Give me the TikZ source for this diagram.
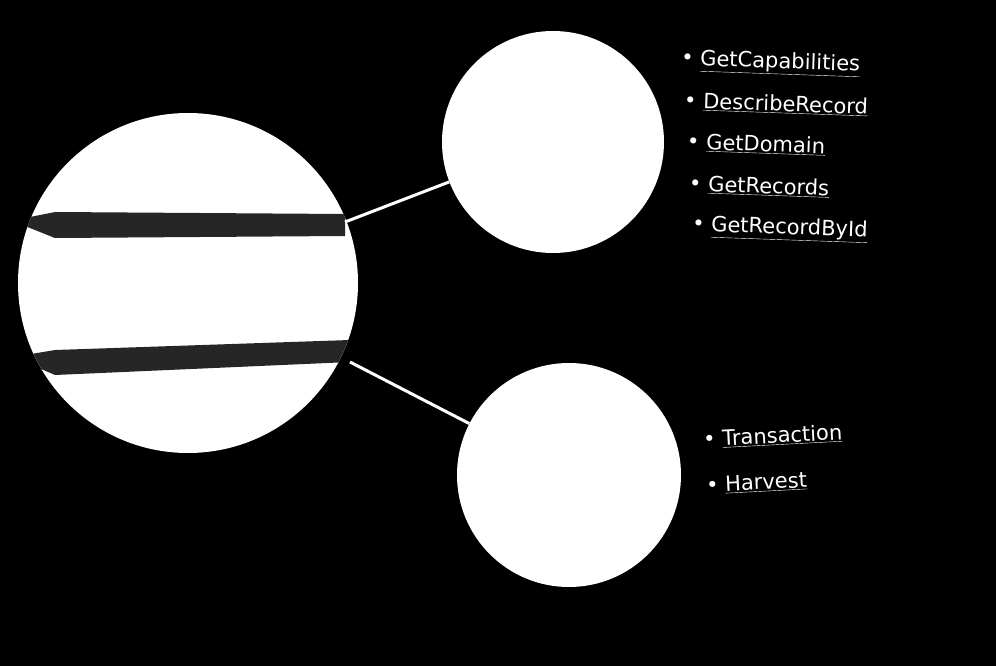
\documentclass[tikz,border=0pt]{standalone}
\usepackage{fontspec}
\setmainfont{DejaVu Sans}
\usetikzlibrary{positioning}
\begin{document}
\begin{tikzpicture}[
        x=1pt, y=-1pt,
        disc/.style={circle, fill=white, inner sep=0pt},
        bar/.style={fill=black!85},
        link/.style={draw=white, line width=3pt},
        item/.style={text=white, font=\fontsize{21}{24}\selectfont, anchor=west, inner sep=0pt}
    ]
        % Background
        \fill[black] (0,0) rectangle (996,666);

        % Circles
        \node [disc, minimum size=340pt] (main) at (188,283) {};
        \node [disc, minimum size=222pt] (basic) at (553,142) {};
        \node [disc, minimum size=224pt] (extra) at (569,475) {};

        % Bars in main circle
        \begin{scope}
            \clip (main.center) circle (170pt);
            \fill [bar] (25,218) -- (55,212) -- (345,214) -- (345,236) -- (55,238) -- (25,226) -- cycle;
            \fill [bar] (25,355) -- (55,350) -- (350,340) -- (350,362) -- (55,375) -- (25,362) -- cycle;
        \end{scope}
        \coordinate (topend) at (345,222);
        \coordinate (botend) at (350,362);

        % Links
        \path [link] (topend) -- (basic);
        \path [link] (botend) -- (extra);

        % Operations
        \node [item, rotate=-2] (op1) at (681,60) {\textbullet\ \underline{GetCapabilities}};
        \node [item, rotate=-2] (op2) at (684,101) {\textbullet\ \underline{DescribeRecord}};
        \node [item, rotate=-2] (op3) at (687,142) {\textbullet\ \underline{GetDomain}};
        \node [item, rotate=-2] (op4) at (689,184) {\textbullet\ \underline{GetRecords}};
        \node [item, rotate=-2] (op5) at (692,226) {\textbullet\ \underline{GetRecordById}};
        \node [item, rotate=3] (op6) at (703,440) {\textbullet\ \underline{Transaction}};
        \node [item, rotate=3] (op7) at (706,486) {\textbullet\ \underline{Harvest}};
\end{tikzpicture}
\end{document}
